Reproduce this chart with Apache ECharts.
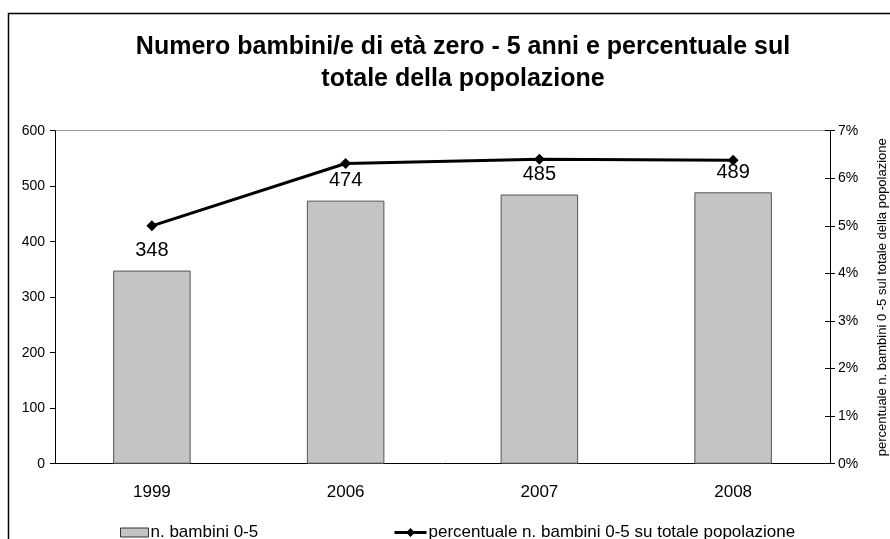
<!DOCTYPE html>
<html><head><meta charset="utf-8">
<script src="https://cdn.jsdelivr.net/npm/echarts@6/dist/echarts.min.js"></script>
<style>html,body{margin:0;padding:0;background:#fff}#c{width:890px;height:539px}</style>
</head><body><div id="c"></div>
<script>
const categories = ['1999', '2006', '2007', '2008'];
const bambini = [348, 474, 485, 489];
const percentuale = [5.0, 6.31, 6.40, 6.38];
const titleText = 'Numero bambini/e di età zero - 5 anni e percentuale sul\ntotale della popolazione';
const barName = 'n. bambini 0-5';
const lineName = 'percentuale n. bambini 0-5 su totale popolazione';
const rightAxisName = 'percentuale n. bambini 0 -5 sul totale della popolazione';

const chart = echarts.init(document.getElementById('c'));
const FONT = 'Liberation Sans, Arial, sans-serif';
chart.setOption({
  animation: false,
  textStyle: { fontFamily: FONT, color: '#000' },
  graphic: [{ type: 'rect', shape: { x: 8.5, y: 13.5, width: 900, height: 600 }, style: { fill: 'none', stroke: '#000', lineWidth: 1.5 }, z: -1 }],
  title: { text: titleText, left: 458, top: 26, textAlign: 'center',
    textStyle: { fontFamily: FONT, fontWeight: 'bold', fontSize: 25, lineHeight: 32, color: '#000' } },
  legend: [
    { data: [{ name: barName, icon: 'rect' }], left: 115, top: 519, itemWidth: 28, itemHeight: 9, itemGap: 0,
      itemStyle: { borderColor: '#333', borderWidth: 1 },
      textStyle: { fontFamily: FONT, fontSize: 17, color: '#000', padding: [0, 0, 0, -3] } },
    { data: [lineName], left: 388, top: 519, itemWidth: 32, itemHeight: 11,
      lineStyle: { width: 3, color: '#000' },
      textStyle: { fontFamily: FONT, fontSize: 17, color: '#000', padding: [0, 0, 0, -3] } }
  ],
  grid: { left: 55, right: 60, top: 130.7, bottom: 75.3, outerBoundsMode: 'none' },
  xAxis: { type: 'category', data: categories,
    axisLine: { lineStyle: { color: '#000', width: 1 } },
    axisTick: { show: false },
    axisLabel: { fontSize: 17, color: '#000', margin: 20, fontFamily: FONT } },
  yAxis: [
    { type: 'value', min: 0, max: 600, interval: 100, position: 'left',
      axisLine: { show: true, lineStyle: { color: '#000' } },
      axisTick: { show: true, length: 5, lineStyle: { color: '#000' } },
      axisLabel: { fontSize: 14, color: '#000', margin: 10, fontFamily: FONT },
      splitLine: { show: true, lineStyle: { color: ['transparent','transparent','transparent','transparent','transparent','transparent','#a0a0a0'] } } },
    { type: 'value', min: 0, max: 7, interval: 1, position: 'right',
      axisLine: { show: true, lineStyle: { color: '#000' } },
      axisTick: { show: true, length: 5, lineStyle: { color: '#000' } },
      axisLabel: { fontSize: 14, color: '#000', margin: 8, formatter: '{value}%', fontFamily: FONT },
      splitLine: { show: false },
      name: rightAxisName, nameLocation: 'middle', nameRotate: 90, nameGap: 46,
      nameTextStyle: { fontSize: 13, color: '#000', fontFamily: FONT } },
    { type: 'value', min: 0, max: 7, interval: 1, position: 'right',
      axisLine: { show: false },
      axisTick: { show: true, inside: true, length: 5, lineStyle: { color: '#000' } },
      axisLabel: { show: false }, splitLine: { show: false } }
  ],
  series: [
    { name: barName, type: 'bar', data: bambini, yAxisIndex: 0, barWidth: '40%',
      itemStyle: { color: '#c4c4c4', borderColor: '#555', borderWidth: 1 },
      label: { show: true, position: 'top', distance: 10, fontSize: 20, color: '#000', fontFamily: FONT } },
    { name: lineName, type: 'line', data: percentuale, yAxisIndex: 1,
      symbol: 'diamond', symbolSize: 11,
      lineStyle: { color: '#000', width: 3 }, itemStyle: { color: '#000' } }
  ]
});
</script></body></html>
